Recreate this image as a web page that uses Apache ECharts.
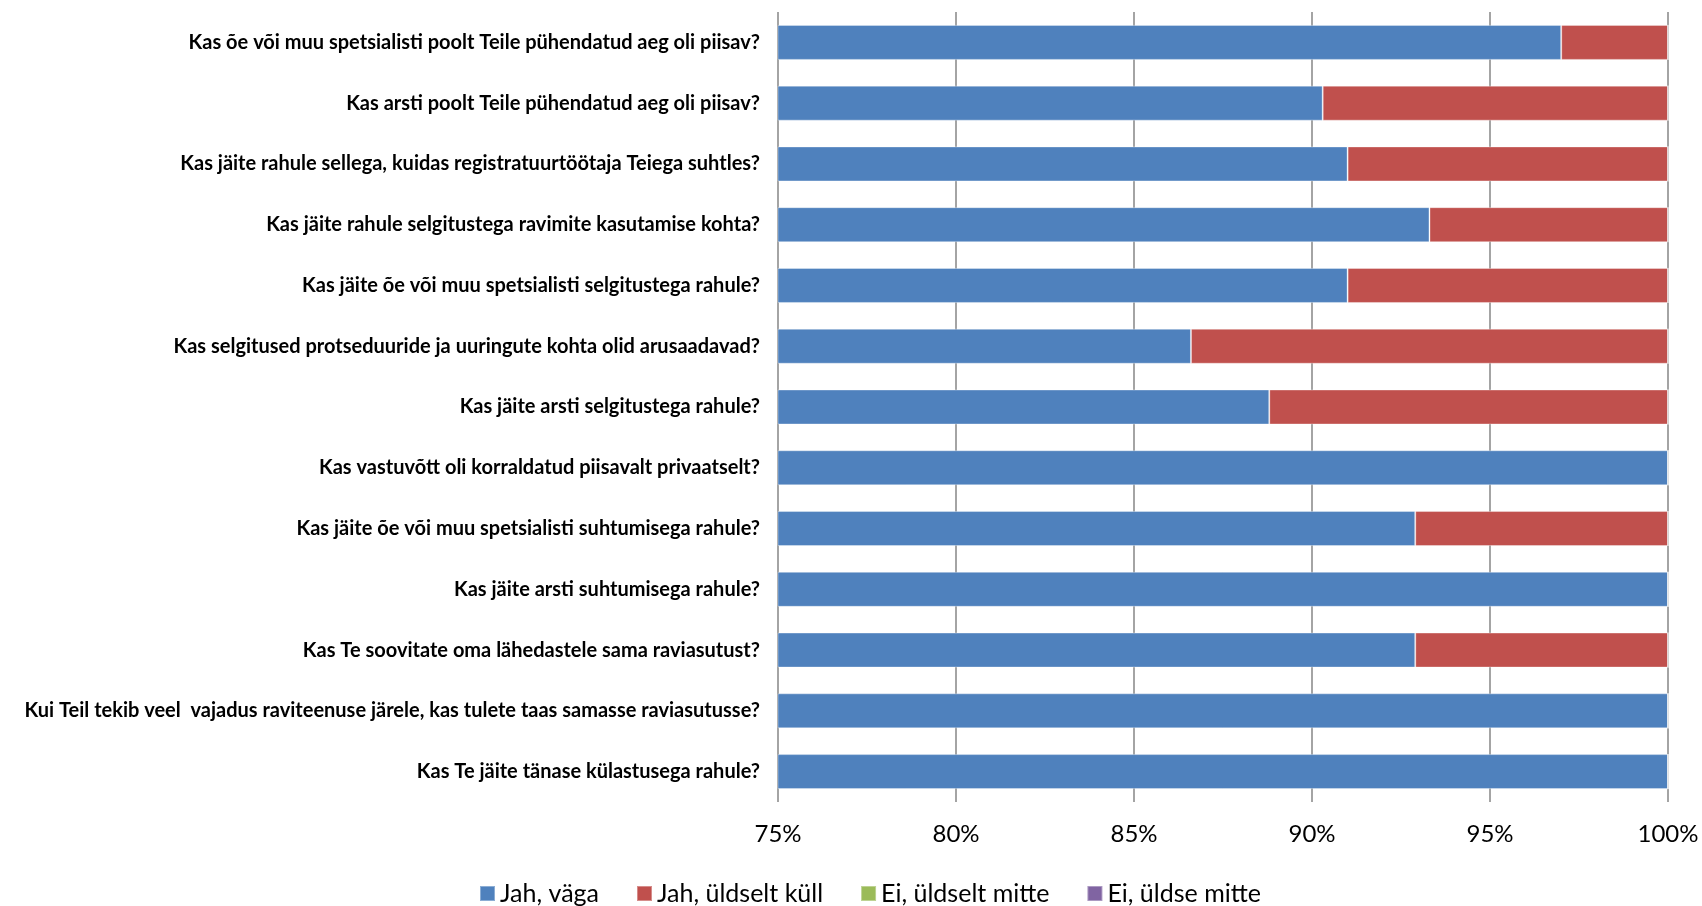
<!DOCTYPE html>
<html>
<head>
<meta charset="utf-8">
<script src="https://cdn.jsdelivr.net/npm/echarts@6/dist/echarts.min.js"></script>
<style>
html,body{margin:0;padding:0;background:#fff;}
#chart{width:1702px;height:906px;}
</style>
</head>
<body>
<div id="chart"></div>
<script>
const categories = [
  "Kas õe või muu spetsialisti poolt Teile pühendatud aeg oli piisav?",
  "Kas arsti poolt Teile pühendatud aeg oli piisav?",
  "Kas jäite rahule sellega, kuidas registratuurtöötaja Teiega suhtles?",
  "Kas jäite rahule selgitustega ravimite kasutamise kohta?",
  "Kas jäite õe või muu spetsialisti selgitustega rahule?",
  "Kas selgitused protseduuride ja uuringute kohta olid arusaadavad?",
  "Kas jäite arsti selgitustega rahule?",
  "Kas vastuvõtt oli korraldatud piisavalt privaatselt?",
  "Kas jäite õe või muu spetsialisti suhtumisega rahule?",
  "Kas jäite arsti suhtumisega rahule?",
  "Kas Te soovitate oma lähedastele sama raviasutust?",
  "Kui Teil tekib veel  vajadus raviteenuse järele, kas tulete taas samasse raviasutusse?",
  "Kas Te jäite tänase külastusega rahule?"
];
const seriesNames = ["Jah, väga", "Jah, üldselt küll", "Ei, üldselt mitte", "Ei, üldse mitte"];
const jahVaga      = [97.0, 90.3, 91.0, 93.3, 91.0, 86.6, 88.8, 100, 92.9, 100, 92.9, 100, 100];
const jahUldselt   = [3.0, 9.7, 9.0, 6.7, 9.0, 13.4, 11.2, 0, 7.1, 0, 7.1, 0, 0];
const eiUldselt    = [0, 0, 0, 0, 0, 0, 0, 0, 0, 0, 0, 0, 0];
const eiUldse      = [0, 0, 0, 0, 0, 0, 0, 0, 0, 0, 0, 0, 0];
const xTicks = { min: 75, max: 100, interval: 5 };
const colors = ["#4F81BD", "#C0504D", "#9BBB59", "#8064A2"];

const chart = echarts.init(document.getElementById('chart'));
const allData = [jahVaga, jahUldselt, eiUldselt, eiUldse];
chart.setOption({
  animation: false,
  color: colors,
  textStyle: { fontFamily: 'Lato' },
  grid: { left: 778, right: 34, top: 12, bottom: 104, containLabel: false },
  legend: {
    data: seriesNames,
    bottom: 0,
    left: 474,
    padding: [0, 5],
    itemWidth: 15,
    itemHeight: 15,
    itemGap: 37,
    icon: 'rect',
    textStyle: { fontSize: 25, color: '#000', fontFamily: 'Lato' }
  },
  xAxis: {
    type: 'value',
    min: xTicks.min,
    max: xTicks.max,
    interval: xTicks.interval,
    axisLine: { show: false },
    axisTick: { show: false },
    axisLabel: { formatter: '{value}%', fontSize: 24, color: '#000', margin: 20, fontFamily: 'Lato' },
    splitLine: { show: true, lineStyle: { color: '#868686', width: 1.5 } }
  },
  yAxis: {
    type: 'category',
    inverse: true,
    data: categories,
    axisLine: { show: false },
    axisTick: { show: false },
    axisLabel: { fontSize: 20, fontWeight: 'bold', color: '#000', margin: 18, fontFamily: 'Lato' }
  },
  series: seriesNames.map((n, i) => ({
    name: n,
    type: 'bar',
    stack: 'total',
    barWidth: 35,
    data: allData[i],
    itemStyle: { color: colors[i], borderColor: 'rgba(255,255,255,0.35)', borderWidth: 1 }
  }))
});
</script>
</body>
</html>
